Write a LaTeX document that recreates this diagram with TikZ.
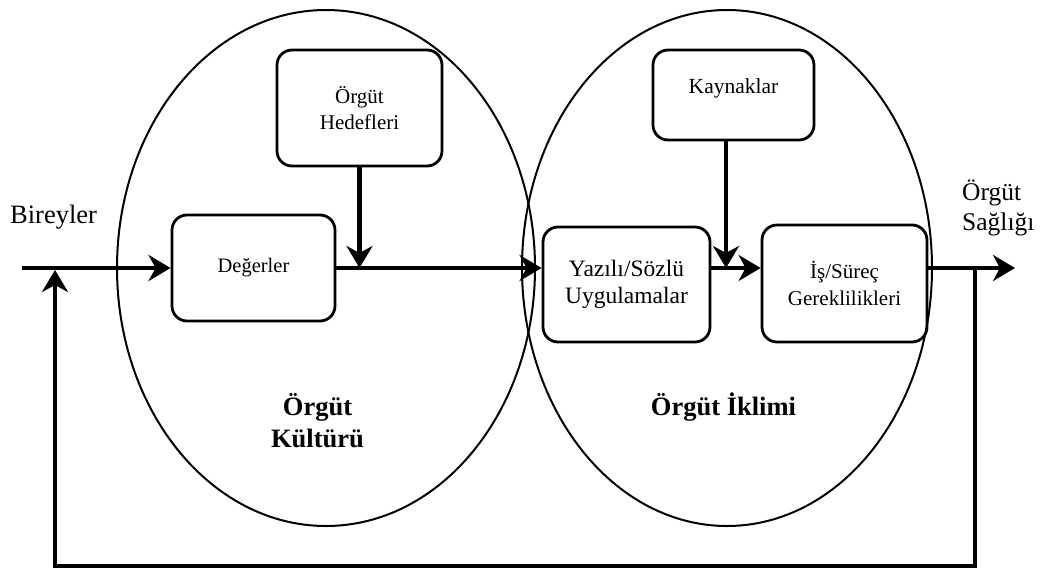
\documentclass[tikz,border=0pt]{standalone}
\usepackage{fontspec}
\setmainfont{Liberation Serif}
\usetikzlibrary{arrows.meta,shapes.geometric}
\begin{document}
\begin{tikzpicture}[x=1pt,y=-1pt,
  oval/.style={ellipse,draw,line width=2pt,inner sep=0pt},
  box/.style={draw,line width=2.8pt,rounded corners=15pt,align=center,inner sep=2pt},
  flow/.style={line width=4.5pt,line join=miter},
  arr/.style={flow,-{Stealth[length=22pt,width=26pt,inset=7pt]}},
  lbl/.style={inner sep=0pt,align=left},
]
\useasboundingbox (0,0) rectangle (1042,571);
% ellipses
\node[oval,minimum width=418pt,minimum height=516pt] (kult) at (326,268) {};
\node[oval,minimum width=410pt,minimum height=516pt] (ikl) at (727,268) {};
% boxes
\node[box,minimum width=163pt,minimum height=106pt,font=\fontsize{20.5}{24}\selectfont] (deg) at (253.5,268) {Değerler};
\node[box,minimum width=165pt,minimum height=116pt,font=\fontsize{21}{26}\selectfont] (hed) at (359.5,108) {Örgüt\\Hedefleri};
\node[box,minimum width=161pt,minimum height=90pt,text depth=18pt,font=\fontsize{21.5}{26}\selectfont] (kay) at (733.5,95) {Kaynaklar};
\node[box,minimum width=167pt,minimum height=115pt,font=\fontsize{23.5}{27}\selectfont] (yaz) at (626.5,284.5) {Yazılı/Sözlü\\Uygulamalar};
\node[box,minimum width=165pt,minimum height=117pt,font=\fontsize{21}{27}\selectfont] (is) at (844.5,283.5) {İş/Süreç\\Gereklilikleri};
% coordinates
\coordinate (start) at (22,268);
\coordinate (j1) at (hed.south |- start);
\coordinate (j2) at (726,268);
\coordinate (out) at (1015,268);
\coordinate (fb1) at (975,268);
\coordinate (fb2) at (975,566);
\coordinate (fb3) at (55,566);
\coordinate (fb4) at (55,270);
% flows
\draw[arr] (start) -- (deg.west);
\draw[arr] (deg.east) -- (yaz.west |- start);
\draw[arr] (hed.south) -- (j1);
\draw[arr] (j2 |- kay.south) -- (j2);
\draw[arr] (yaz.east |- start) -- (is.west |- start);
\draw[arr] (is.east |- start) -- (out);
\draw[arr] (fb1) -- (fb2) -- (fb3) -- (fb4);
% labels
\node[lbl,anchor=base west,font=\fontsize{26.5}{30}\selectfont] (bir) at (10,223) {Bireyler};
\node[lbl,anchor=base west,font=\fontsize{25.5}{30}\selectfont] (sag) at (962,230) {Örgüt\\Sağlığı};
\node[lbl,align=center,anchor=base,font=\fontsize{26.5}{32}\selectfont\bfseries] (kl) at (317.5,447) {Örgüt\\Kültürü};
\node[lbl,anchor=base,font=\fontsize{26.5}{32}\selectfont\bfseries] (il) at (723.5,415) {Örgüt İklimi};
\end{tikzpicture}
\end{document}
